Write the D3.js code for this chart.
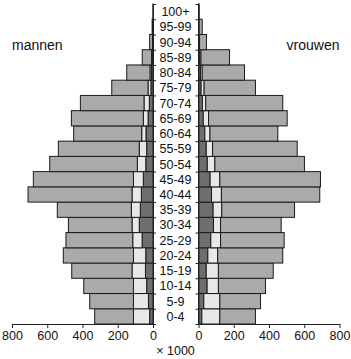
<!DOCTYPE html>
<html>
<head>
<meta charset="utf-8">
<script src="https://cdn.jsdelivr.net/npm/d3@7"></script>
<style>
  body { margin: 0; background: #fff; }
  text { font-family: "Liberation Sans", Arial, sans-serif; fill: #111; }
</style>
</head>
<body>
<div id="vis"></div>
<script>
// age groups, bottom to top
const ages = ["0-4","5-9","10-14","15-19","20-24","25-29","30-34","35-39","40-44","45-49",
  "50-54","55-59","60-64","65-69","70-74","75-79","80-84","85-89","90-94","95-99","100+"]

// men (x 1000): dark inner part, light middle part, grey outer part
const menDark   = [19,26,36,43,41,62,78,72,66,55,41,36,40,28,21,12,8,4,1,0,0]
const menLight  = [92,85,75,76,70,53,41,51,53,56,48,42,24,27,30,16,9,4,2,1,0]
const menGrey   = [220,248,282,342,398,379,361,420,590,568,497,459,386,408,361,206,132,53,16,4,1]

// women (x 1000)
const womenDark  = [19,30,49,44,53,70,85,83,74,66,50,44,36,27,22,15,11,7,3,1,0]
const womenLight = [102,91,64,69,56,55,40,49,56,55,43,36,29,30,19,17,10,7,3,2,1]
const womenGrey  = [202,231,267,311,369,361,344,413,558,571,508,480,385,446,437,291,240,162,39,18,2]

const xTicks = [0, 200, 400, 600, 800]

const width = 351
const height = 359

const svg = d3.select("#vis")
  .append("svg")
  .attr("width", width)
  .attr("height", height)

// scales
const y = d3.scaleBand()
  .domain(ages)
  .range([324, 4])
  .paddingInner(0)

const yLin = d3.scaleLinear()
  .domain([0, ages.length])
  .range([324, 4])

const xLeft = d3.scaleLinear().domain([0, 800]).range([153, 12])
const xRight = d3.scaleLinear().domain([0, 800]).range([198.5, 339.5])

const colors = ["#6e6e6e", "#e8e8e8", "#aaaaaa"]
const keys = ["dark", "light", "grey"]

function rows(dark, light, grey) {
  return ages.map((a, i) => ({ age: a, dark: dark[i], light: light[i], grey: grey[i] }))
}

const stack = d3.stack().keys(keys)

function drawSide(data, x, left) {
  const series = stack(data)
  const g = svg.append("g")
  g.selectAll("g")
    .data(series)
    .enter()
    .append("g")
    .attr("fill", (d, i) => colors[i])
    .selectAll("rect")
    .data(d => d)
    .enter()
    .filter(d => d[1] - d[0] > 0)
    .append("rect")
    .attr("x", d => left ? x(d[1]) : x(d[0]))
    .attr("y", d => y(d.data.age))
    .attr("width", d => Math.abs(x(d[1]) - x(d[0])))
    .attr("height", y.bandwidth())
    .attr("stroke", "#1a1a1a")
    .attr("stroke-width", 1)
}

drawSide(rows(menDark, menLight, menGrey), xLeft, true)
drawSide(rows(womenDark, womenLight, womenGrey), xRight, false)

// vertical axes with ticks at band boundaries
svg.append("g")
  .attr("transform", `translate(${xLeft(0)},0)`)
  .call(d3.axisRight(yLin).tickValues(d3.range(ages.length + 1)).tickSize(3).tickSizeOuter(0).tickFormat(""))
svg.append("g")
  .attr("transform", `translate(${xRight(0)},0)`)
  .call(d3.axisLeft(yLin).tickValues(d3.range(ages.length + 1)).tickSize(3).tickSizeOuter(0).tickFormat(""))

// age labels
svg.append("g")
  .selectAll("text")
  .data(ages)
  .enter()
  .append("text")
  .attr("x", 175.5)
  .attr("y", d => y(d) + y.bandwidth() / 2)
  .attr("dy", "0.36em")
  .attr("text-anchor", "middle")
  .style("font-size", "12.5px")
  .text(d => d)

// bottom axes
const bl = svg.append("g")
  .attr("transform", "translate(0,324)")
  .call(d3.axisBottom(xLeft).tickValues(xTicks).tickSize(4).tickSizeOuter(0))
const br = svg.append("g")
  .attr("transform", "translate(0,324)")
  .call(d3.axisBottom(xRight).tickValues(xTicks).tickSize(4).tickSizeOuter(0))

svg.selectAll(".tick text")
  .style("font-size", "12.5px")
  .style("font-family", "'Liberation Sans', Arial, sans-serif")
  .attr("fill", "#111")
svg.selectAll(".domain, .tick line").attr("stroke", "#222")

svg.append("text")
  .attr("x", 175.5)
  .attr("y", 355)
  .attr("text-anchor", "middle")
  .style("font-size", "12.5px")
  .text("× 1000")

svg.append("text")
  .attr("x", 12)
  .attr("y", 50)
  .style("font-size", "14px")
  .text("mannen")

svg.append("text")
  .attr("x", 339.5)
  .attr("y", 50)
  .attr("text-anchor", "end")
  .style("font-size", "14px")
  .text("vrouwen")
</script>
</body>
</html>
